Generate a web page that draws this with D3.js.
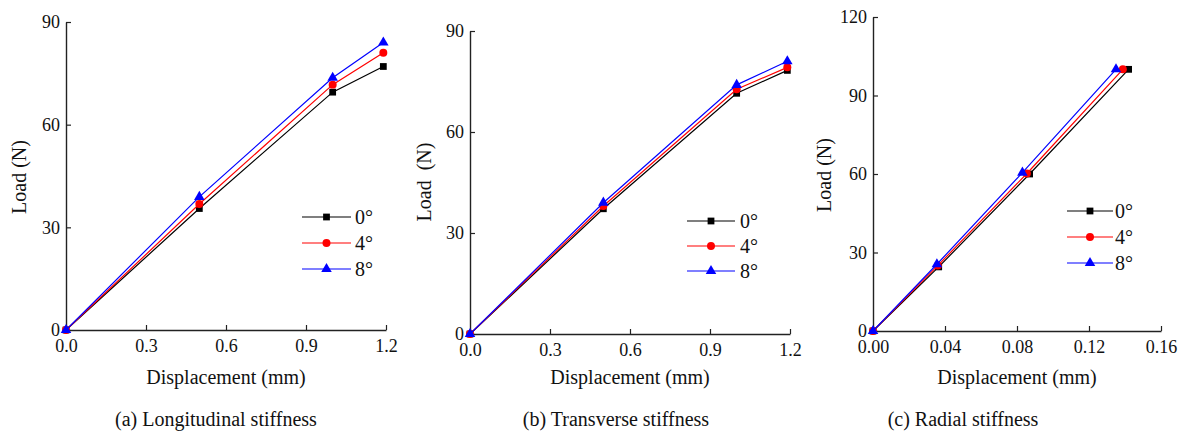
<!DOCTYPE html>
<html>
<head>
<meta charset="utf-8">
<script src="https://cdn.jsdelivr.net/npm/d3@7"></script>
<style>
  html, body { margin: 0; padding: 0; background: #fff; }
  svg { display: block; }
  text { font-family: "Liberation Serif", "Times New Roman", serif; fill: #111; }
</style>
</head>
<body>
<svg id="chart" width="1185" height="434"></svg>
<script>
// Legend entries (loading angle)
const angleLabels = ["0°", "4°", "8°"];

// (a) Longitudinal stiffness
const longDisp = [0, 0.5, 1.0, 1.19];
const longLoad0 = [0, 35.5, 69.5, 77];
const longLoad4 = [0, 36.8, 71.7, 81];
const longLoad8 = [0, 38.9, 73.7, 84];

// (b) Transverse stiffness
const transDisp = [0, 0.5, 1.0, 1.19];
const transLoad0 = [0, 37.2, 71.5, 78.3];
const transLoad4 = [0, 38, 72.7, 79.2];
const transLoad8 = [0, 39, 74, 81];

// (c) Radial stiffness
const radDisp0 = [0, 0.0365, 0.087, 0.142];
const radDisp4 = [0, 0.036, 0.0855, 0.1388];
const radDisp8 = [0, 0.0355, 0.083, 0.135];
const radLoad0 = [0, 24.5, 60, 100];
const radLoad4 = [0, 25, 60.2, 100];
const radLoad8 = [0, 25.5, 60.5, 100];

// Axis ticks
const dispTicksAB = [0, 0.3, 0.6, 0.9, 1.2];
const loadTicksAB = [0, 30, 60, 90];
const dispTicksC = [0, 0.04, 0.08, 0.12, 0.16];
const loadTicksC = [0, 30, 60, 90, 120];

const captions = ["(a) Longitudinal stiffness", "(b) Transverse stiffness", "(c) Radial stiffness"];

// Series styling
const seriesStyle = [
  { color: "#000000", symbol: d3.symbolSquare, size: 46 },
  { color: "#ff0000", symbol: d3.symbolCircle, size: 50 },
  { color: "#0000ff", symbol: d3.symbolTriangle, size: 48 }
];

const svg = d3.select("#chart");

const panels = [
  {
    box: { left: 66, right: 386, top: 22, bottom: 330 },
    xDomain: [0, 1.2], yDomain: [0, 90],
    xTicks: dispTicksAB, yTicks: loadTicksAB, xFmt: ".1f",
    series: [
      { x: longDisp, y: longLoad0 },
      { x: longDisp, y: longLoad4 },
      { x: longDisp, y: longLoad8 }
    ],
    yTitle: "Load (N)", yTitleX: 26, yTitleY: 177,
    legend: { x0: 302, x1: 351, tx: 355, rows: [217, 243, 269] },
    caption: captions[0], captionX: 216
  },
  {
    box: { left: 470, right: 790, top: 31, bottom: 334 },
    xDomain: [0, 1.2], yDomain: [0, 90],
    xTicks: dispTicksAB, yTicks: loadTicksAB, xFmt: ".1f",
    series: [
      { x: transDisp, y: transLoad0 },
      { x: transDisp, y: transLoad4 },
      { x: transDisp, y: transLoad8 }
    ],
    yTitle: "Load\u00a0 (N)", yTitleX: 431, yTitleY: 182,
    legend: { x0: 687, x1: 735, tx: 740, rows: [221, 246, 271] },
    caption: captions[1], captionX: 616
  },
  {
    box: { left: 873, right: 1161, top: 17, bottom: 331 },
    xDomain: [0, 0.16], yDomain: [0, 120],
    xTicks: dispTicksC, yTicks: loadTicksC, xFmt: ".2f",
    series: [
      { x: radDisp0, y: radLoad0 },
      { x: radDisp4, y: radLoad4 },
      { x: radDisp8, y: radLoad8 }
    ],
    yTitle: "Load (N)", yTitleX: 831, yTitleY: 175,
    legend: { x0: 1067, x1: 1113, tx: 1115, rows: [211, 237, 263] },
    caption: captions[2], captionX: 963
  }
];

panels.forEach(p => {
  const b = p.box;
  const x = d3.scaleLinear().domain(p.xDomain).range([b.left, b.right]);
  const y = d3.scaleLinear().domain(p.yDomain).range([b.bottom, b.top]);
  const g = svg.append("g");

  // x axis, ticks pointing into the plot
  const xAxis = g.append("g")
    .attr("transform", `translate(0,${b.bottom})`)
    .call(d3.axisBottom(x).tickValues(p.xTicks).tickFormat(d3.format(p.xFmt))
      .tickSizeInner(-5).tickSizeOuter(0).tickPadding(9));
  // y axis, ticks pointing into the plot
  const yAxis = g.append("g")
    .attr("transform", `translate(${b.left},0)`)
    .call(d3.axisLeft(y).tickValues(p.yTicks).tickFormat(d3.format("d"))
      .tickSizeInner(-5).tickSizeOuter(0).tickPadding(6));

  [xAxis, yAxis].forEach(a => {
    a.select(".domain").attr("stroke", "#222").attr("stroke-width", 1.4);
    a.selectAll(".tick line").attr("stroke", "#222").attr("stroke-width", 1.2);
    a.selectAll(".tick text")
      .attr("font-size", 18)
      .style("font-family", "'Liberation Serif', 'Times New Roman', serif")
      .attr("fill", "#111");
  });

  // series lines and markers
  const line = d3.line().x(d => x(d[0])).y(d => y(d[1]));
  p.series.forEach((s, i) => {
    const st = seriesStyle[i];
    const pts = s.x.map((v, k) => [v, s.y[k]]);
    g.append("path")
      .datum(pts)
      .attr("d", line)
      .attr("fill", "none")
      .attr("stroke", st.color)
      .attr("stroke-width", 1.2);
    g.selectAll(null)
      .data(pts)
      .join("path")
      .attr("transform", d => `translate(${x(d[0])},${y(d[1])})`)
      .attr("d", d3.symbol().type(st.symbol).size(st.size))
      .attr("fill", st.color);
  });

  // legend
  const L = p.legend;
  angleLabels.forEach((lab, i) => {
    const st = seriesStyle[i];
    const ry = L.rows[i];
    g.append("line")
      .attr("x1", L.x0).attr("x2", L.x1).attr("y1", ry).attr("y2", ry)
      .attr("stroke", st.color).attr("stroke-width", 1.2);
    g.append("path")
      .attr("transform", `translate(${(L.x0 + L.x1) / 2},${ry})`)
      .attr("d", d3.symbol().type(st.symbol).size(st.size))
      .attr("fill", st.color);
    g.append("text")
      .attr("x", L.tx).attr("y", ry)
      .attr("dy", "0.35em")
      .attr("font-size", 20)
      .text(lab);
  });

  // axis titles
  g.append("text")
    .attr("x", (b.left + b.right) / 2)
    .attr("y", 384)
    .attr("text-anchor", "middle")
    .attr("font-size", 20)
    .text("Displacement (mm)");
  g.append("text")
    .attr("transform", `translate(${p.yTitleX},${p.yTitleY}) rotate(-90)`)
    .attr("text-anchor", "middle")
    .attr("font-size", 20)
    .text(p.yTitle);

  // caption
  g.append("text")
    .attr("x", p.captionX)
    .attr("y", 426)
    .attr("text-anchor", "middle")
    .attr("font-size", 20)
    .text(p.caption);
});
</script>
</body>
</html>
